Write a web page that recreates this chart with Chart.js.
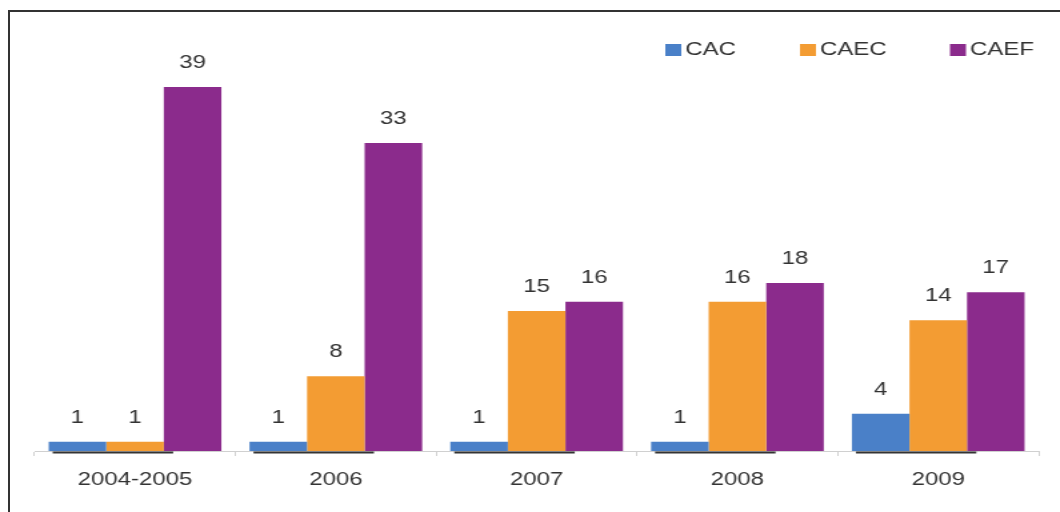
<!DOCTYPE html>
<html lang="en">
<head>
	<meta charset="UTF-8">
	<title>CAC / CAEC / CAEF</title>
	<style>
		body { margin: 0; background: #fff; overflow: hidden; }
		#frame { position: absolute; left: 8px; top: 10px; width: 1100px; height: 600px;
			border-left: 2px solid #333; border-top: 2px solid #333; }
		#myChart { position: absolute; left: 0; top: 0; transform-origin: 0 0; transform: scaleX(1.33333); }
	</style>
</head>
<body>
	<div id="frame"></div>
	<canvas id="myChart" width="795" height="512"></canvas>

	<script src="https://cdn.jsdelivr.net/npm/chart.js@4"></script>
	<script type="text/javascript">
		var categories = ['2004-2005', '2006', '2007', '2008', '2009'];
		var cac = [1, 1, 1, 1, 4];
		var caec = [1, 8, 15, 16, 14];
		var caef = [39, 33, 16, 18, 17];
		var seriesNames = ['CAC', 'CAEC', 'CAEF'];
		var colors = ['#4a80c8', '#f39c33', '#8b2b8c'];

		var FONT = 'Liberation Sans, Arial, sans-serif';

		// value labels, legend and the dark shadow under first two bars
		var extras = {
			id: 'extras',
			afterDatasetsDraw: function(chart) {
				var ctx = chart.ctx;
				var m0 = chart.getDatasetMeta(0), m1 = chart.getDatasetMeta(1);
				ctx.save();
				ctx.strokeStyle = '#333';
				ctx.lineWidth = 2;
				for (var i = 0; i < categories.length; i++) {
					var b0 = m0.data[i], b1 = m1.data[i];
					var y = b0.base + 1.5;
					ctx.beginPath();
					ctx.moveTo(b0.x - b0.width / 2 + 3, y);
					ctx.lineTo(b1.x + b1.width / 2 + 7, y);
					ctx.stroke();
				}

				ctx.fillStyle = '#333';
				ctx.font = '18px ' + FONT;
				ctx.textAlign = 'center';
				ctx.textBaseline = 'middle';
				chart.data.datasets.forEach(function(ds, d) {
					chart.getDatasetMeta(d).data.forEach(function(bar, i) {
						ctx.fillText(String(ds.data[i]), bar.x, bar.y - 24);
					});
				});

				var lx = [499, 600, 712.5];
				ctx.textAlign = 'left';
				seriesNames.forEach(function(name, k) {
					ctx.fillStyle = colors[k];
					ctx.fillRect(lx[k], 44, 12, 12);
					ctx.fillStyle = '#333';
					ctx.fillText(name, lx[k] + 15, 50.5);
				});
				ctx.restore();
			}
		};

		var ctx = document.getElementById('myChart').getContext('2d');
		var myChart = new Chart(ctx, {
			type: 'bar',
			data: {
				labels: categories,
				datasets: [
					{ label: seriesNames[0], data: cac, backgroundColor: colors[0] },
					{ label: seriesNames[1], data: caec, backgroundColor: colors[1] },
					{ label: seriesNames[2], data: caef, backgroundColor: colors[2] }
				]
			},
			options: {
				responsive: false,
				animation: false,
				devicePixelRatio: 1,
				categoryPercentage: 0.86,
				barPercentage: 1,
				layout: { padding: { left: 26, right: 16, top: 31, bottom: 0 } },
				plugins: { legend: { display: false }, tooltip: { enabled: false } },
				scales: {
					x: {
						grid: { drawOnChartArea: false, drawTicks: true, tickLength: 5, color: '#d0d0d0', offset: true },
						border: { color: '#d0d0d0' },
						ticks: { color: '#333', font: { family: FONT, size: 18 }, padding: 13 },
						afterFit: function(s) { s.height = 61; }
					},
					y: { display: false, min: 0, max: 45 }
				}
			},
			plugins: [extras]
		});
	</script>
</body>
</html>
